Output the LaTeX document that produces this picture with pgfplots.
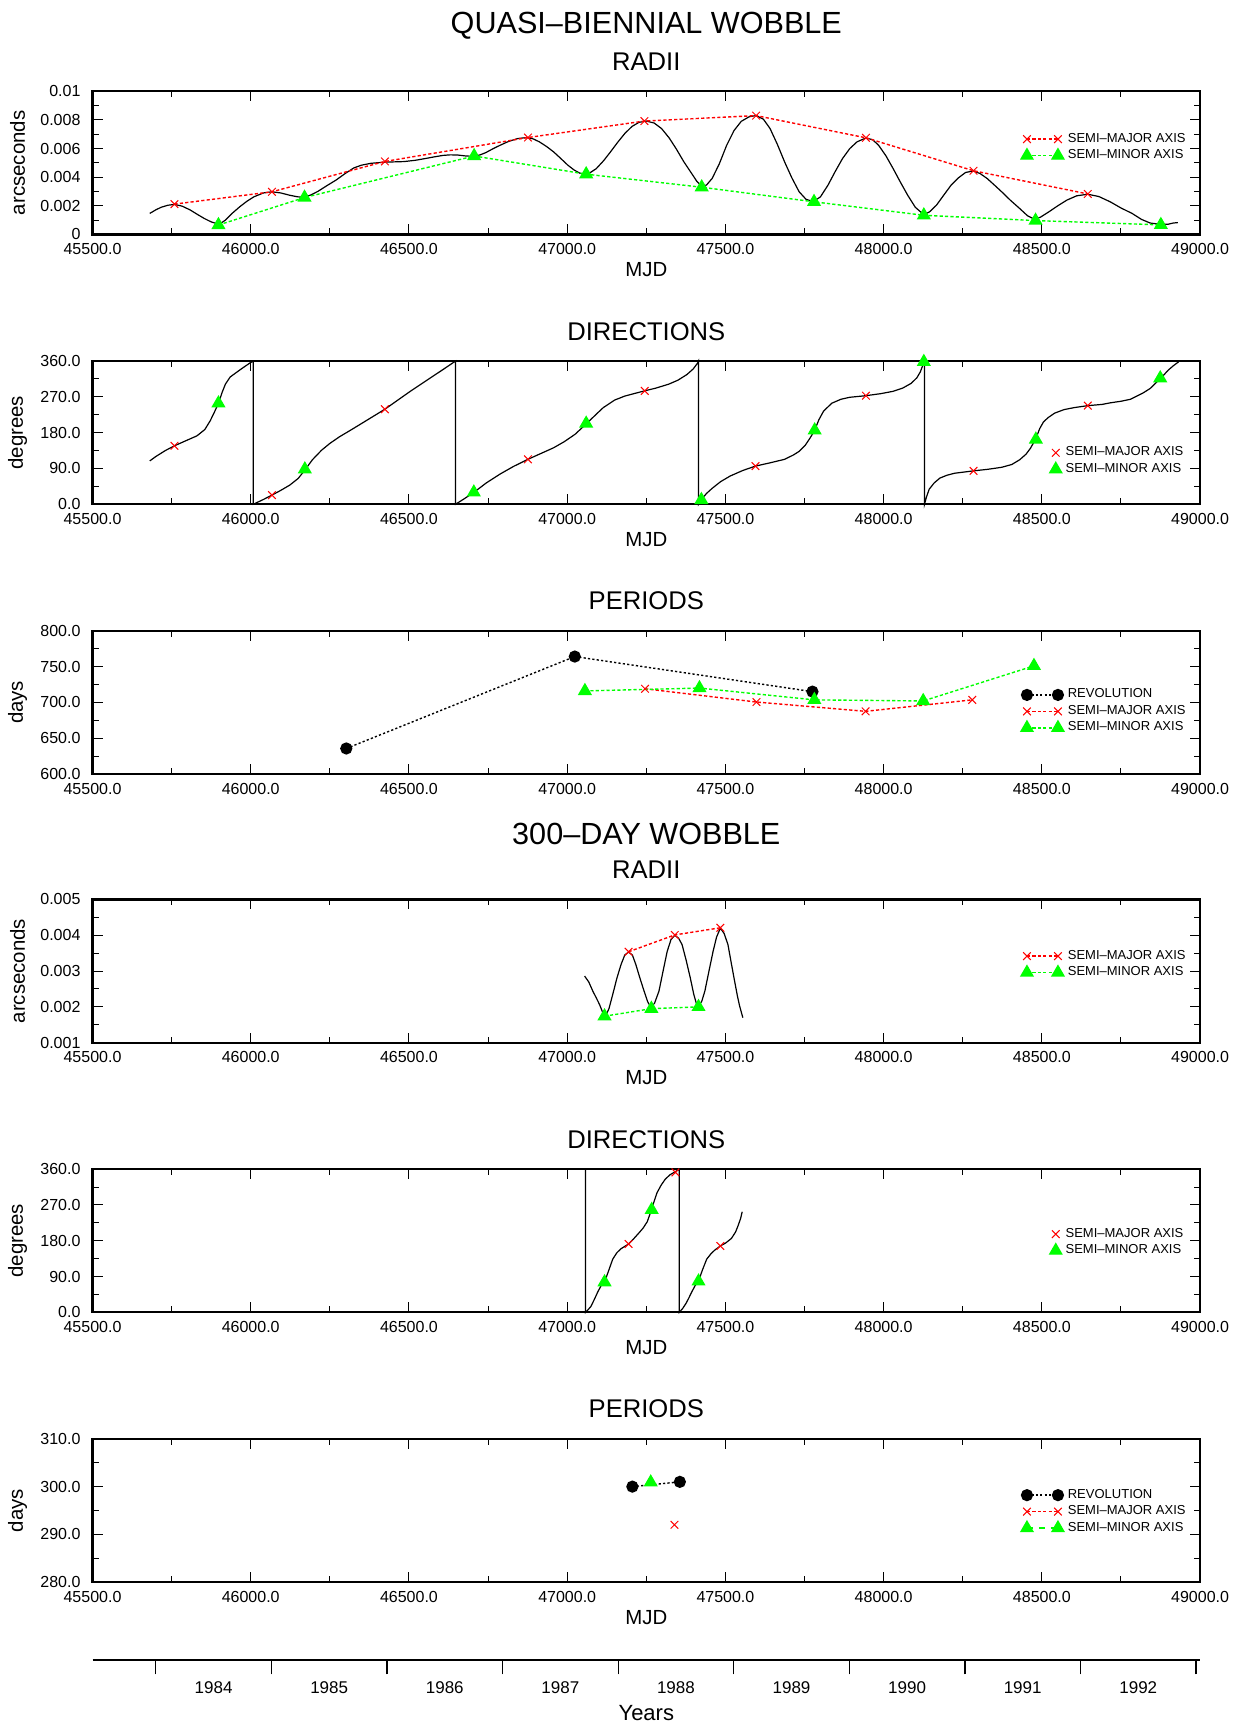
\documentclass[border=0pt]{standalone}
\usepackage{fontspec}
\setmainfont{Liberation Sans}
\usepackage{pgfplots}
\pgfplotsset{compat=1.18}

\definecolor{gred}{RGB}{255,0,0}
\definecolor{ggreen}{RGB}{0,255,0}

\newcommand{\tickfont}{\fontsize{8}{9}\selectfont}
\newcommand{\labfont}{\fontsize{10.2}{12}\selectfont}
\newcommand{\panfont}{\fontsize{12.8}{15}\selectfont}
\newcommand{\bigfont}{\fontsize{15.3}{18}\selectfont}
\newcommand{\legfont}{\fontsize{6.5}{7.5}\selectfont}

\pgfplotsset{
  panel/.style={
    scale only axis, width=553.8pt, height=71.6pt, anchor=south west,
    xmin=45500, xmax=49000,
    scaled ticks=false,
    xtick={45500,46000,46500,47000,47500,48000,48500,49000},
    xticklabels={45500.0,46000.0,46500.0,47000.0,47500.0,48000.0,48500.0,49000.0},
    minor x tick num=1, minor y tick num=1,
    tick align=inside,
    major tick length=5pt, minor tick length=3pt,
    axis line style={line width=1.1pt},
    tick style={black, line width=0.5pt},
    /pgf/number format/assume math mode=true,
    ticklabel style={font=\tickfont},
    xticklabel style={yshift=-1pt},
    yticklabel style={xshift=-2.5pt},
    every axis title/.style={at={(axis description cs:0.5,1)}, anchor=center, yshift=14.9pt, font=\panfont},
    xlabel style={at={(axis description cs:0.5,0)}, anchor=center, yshift=-17.6pt, font=\labfont},
    ylabel style={at={(axis description cs:-0.0677,0.5)}, anchor=center, font=\labfont},
    clip=false,
    legend cell align=left,
    legend style={draw=none, fill=none, inner sep=0pt, font=\legfont, row sep=-1.8pt, anchor=west},
  },
  curve/.style={black, line width=0.6pt, no markers, forget plot},
  semimaj/.style={color=gred, mark=x, mark size=2.7pt, line width=0.7pt,
    dash pattern=on 1.6pt off 1.1pt, mark options={solid, line width=0.5pt}},
  semimin/.style={color=ggreen, mark=triangle*, mark size=3.4pt, line width=0.7pt,
    dash pattern=on 1.6pt off 1.1pt, mark options={solid}},
  revol/.style={color=black, mark=*, mark size=2.7pt, line width=0.7pt,
    dash pattern=on 1.1pt off 1.1pt, mark options={solid}},
  twoend/.style={legend image code/.code={\draw[##1] plot coordinates {(0pt,0pt) (15.5pt,0pt)};}},
  oneend/.style={legend image code/.code={\draw[##1] plot coordinates {(0pt,0pt)};}},
}

\begin{document}
\begin{tikzpicture}

\node[font=\bigfont] at (323.15pt,850.8pt) {QUASI–BIENNIAL WOBBLE};
\node[font=\bigfont] at (323.15pt,446.75pt) {300–DAY WOBBLE};

% ---------------- quasi-biennial: radii ----------------
\begin{axis}[panel, at={(46.25pt,746.25pt)}, twoend,
  ymin=0, ymax=0.01,
  ytick={0,0.002,0.004,0.006,0.008,0.01},
  yticklabels={0,0.002,0.004,0.006,0.008,0.01},
  title={RADII}, xlabel={MJD}, ylabel={arcseconds},
  legend style={at={(axis description cs:0.838,0.608)}}]
\addplot[curve] coordinates {
(45681,0.00147)(45700,0.00172)(45717,0.00190)(45738,0.00204)(45759,0.00210)
(45783,0.00198)(45808,0.00172)(45830,0.00142)(45853,0.00112)(45875,0.00088)
(45892,0.00076)(45905,0.00078)(45920,0.00100)(45940,0.00145)(45965,0.00193)
(45988,0.00232)(46010,0.00263)(46040,0.00290)(46067,0.00298)(46095,0.00290)
(46123,0.00274)(46148,0.00263)(46168,0.00260)(46190,0.00276)(46213,0.00302)
(46240,0.00340)(46269,0.00379)(46298,0.00425)(46326,0.00465)(46350,0.00484)
(46380,0.00497)(46424,0.00505)(46484,0.00509)(46520,0.00518)(46551,0.00530)
(46580,0.00542)(46607,0.00552)(46630,0.00556)(46653,0.00555)(46680,0.00548)
(46705,0.00546)(46725,0.00556)(46743,0.00572)(46765,0.00598)(46788,0.00623)
(46815,0.00650)(46844,0.00670)(46872,0.00677)(46892,0.00668)(46912,0.00647)
(46935,0.00614)(46957,0.00577)(46980,0.00530)(47002,0.00484)(47022,0.00450)
(47040,0.00428)(47058,0.00421)(47075,0.00435)(47092,0.00460)(47115,0.00515)
(47137,0.00577)(47160,0.00645)(47182,0.00705)(47205,0.00755)(47227,0.00783)
(47250,0.00792)(47275,0.00778)(47298,0.00740)(47322,0.00675)(47344,0.00600)
(47368,0.00510)(47390,0.00437)(47410,0.00370)(47426,0.00336)(47440,0.00345)
(47458,0.00391)(47480,0.00490)(47504,0.00623)(47527,0.00725)(47550,0.00790)
(47575,0.00822)(47597,0.00830)(47620,0.00805)(47641,0.00740)(47664,0.00630)
(47687,0.00507)(47710,0.00395)(47733,0.00298)(47755,0.00245)(47778,0.00230)
(47800,0.00262)(47824,0.00344)(47847,0.00440)(47870,0.00530)(47893,0.00600)
(47916,0.00647)(47944,0.00674)(47965,0.00662)(47984,0.00623)(48007,0.00550)
(48030,0.00460)(48053,0.00365)(48076,0.00274)(48100,0.00190)(48127,0.00138)
(48145,0.00158)(48167,0.00205)(48190,0.00275)(48213,0.00344)(48236,0.00395)
(48259,0.00433)(48284,0.00444)(48305,0.00425)(48327,0.00391)(48350,0.00345)
(48373,0.00298)(48400,0.00240)(48430,0.00181)(48455,0.00130)(48476,0.00107)
(48495,0.00120)(48522,0.00158)(48550,0.00200)(48579,0.00240)(48610,0.00270)
(48645,0.00281)(48680,0.00265)(48716,0.00228)(48750,0.00185)(48785,0.00147)
(48815,0.00105)(48842,0.00080)(48876,0.00070)(48900,0.00072)(48915,0.00080)
(48930,0.00083)};
\addplot[semimaj] coordinates {
(45759,0.00212)(46067,0.00298)(46424,0.00510)(46876,0.00677)(47244,0.00792)
(47597,0.00830)(47944,0.00675)(48284,0.00445)(48645,0.00283)};
\addlegendentry{SEMI–MAJOR AXIS}
\addplot[semimin] coordinates {
(45898,0.00066)(46170,0.00258)(46706,0.00548)(47060,0.00421)(47425,0.00330)
(47780,0.00228)(48127,0.00134)(48480,0.00097)(48876,0.00067)};
\addlegendentry{SEMI–MINOR AXIS}
\end{axis}

% ---------------- quasi-biennial: directions ----------------
\begin{axis}[panel, at={(46.25pt,611.35pt)}, oneend,
  ymin=0, ymax=360,
  ytick={0,90,180,270,360},
  yticklabels={0.0,90.0,180.0,270.0,360.0},
  title={DIRECTIONS}, xlabel={MJD}, ylabel={degrees},
  legend style={at={(axis description cs:0.864,0.302)}}]
\addplot[curve] coordinates {
(45681,109)(45700,120)(45730,135)(45759,147)(45790,158)(45830,172)(45855,188)
(45872,210)(45886,233)(45898,254)(45910,282)(45920,302)(45935,320)(45954,331)
(45975,343)(45999,356)(46008,360)(46008,0)
(46040,12)(46067,23)(46095,35)(46123,48)(46150,65)(46171,86)(46195,112)
(46224,136)(46250,153)(46281,170)(46315,186)(46348,202)(46385,220)(46424,239)
(46465,262)(46506,285)(46540,303)(46574,321)(46610,340)(46647,360)(46647,0)
(46675,14)(46705,30)(46745,54)(46788,76)(46830,95)(46876,113)(46915,127)
(46957,142)(46990,157)(47025,176)(47060,202)(47090,225)(47114,243)(47150,262)
(47182,272)(47215,279)(47244,285)(47280,292)(47321,302)(47350,312)(47378,326)
(47398,340)(47412,355)(47415,360)(47415,0)
(47424,12)(47440,27)(47458,40)(47485,57)(47515,71)(47555,85)(47595,96)
(47640,104)(47687,113)(47715,124)(47733,133)(47752,148)(47767,166)(47782,186)
(47795,212)(47810,234)(47836,254)(47865,264)(47893,269)(47944,273)(47990,278)
(48030,284)(48060,292)(48087,304)(48105,318)(48116,333)(48124,350)(48129,360)
(48129,0)
(48136,20)(48144,38)(48160,54)(48178,66)(48200,73)(48224,78)(48284,84)
(48330,88)(48373,93)(48405,100)(48430,112)(48450,126)(48464,141)(48481,165)
(48493,190)(48505,207)(48520,218)(48540,229)(48570,238)(48602,243)(48645,248)
(48690,251)(48716,255)(48750,259)(48780,264)(48800,272)(48820,280)(48842,291)
(48860,305)(48876,317)(48899,337)(48915,348)(48932,358)};
\addplot[semimaj, only marks] coordinates {
(45759,147)(46067,23)(46424,239)(46876,113)(47245,285)(47595,96)(47944,273)
(48284,84)(48645,248)};
\addlegendentry{SEMI–MAJOR AXIS}
\addplot[semimin, only marks] coordinates {
(45898,254)(46171,88)(46705,30)(47060,203)(47424,11)(47782,186)(48127,358)
(48481,163)(48874,317)};
\addlegendentry{SEMI–MINOR AXIS}
\end{axis}

% ---------------- quasi-biennial: periods ----------------
\begin{axis}[panel, at={(46.25pt,476.5pt)}, twoend,
  ymin=600, ymax=800,
  ytick={600,650,700,750,800},
  yticklabels={600.0,650.0,700.0,750.0,800.0},
  title={PERIODS}, ylabel={days},
  legend style={at={(axis description cs:0.838,0.437)}}]
\addplot[revol] coordinates {(46302,635.6)(47024,764)(47775,715)};
\addlegendentry{REVOLUTION}
\addplot[semimaj] coordinates {(47246,719)(47598,700.5)(47943,687.5)(48280,703.5)};
\addlegendentry{SEMI–MAJOR AXIS}
\addplot[semimin] coordinates {(47056,716)(47418,720)(47781,703.5)(48125,702)(48475,751)};
\addlegendentry{SEMI–MINOR AXIS}
\end{axis}

% ---------------- 300-day: radii ----------------
\begin{axis}[panel, at={(46.25pt,342.15pt)}, twoend,
  ymin=0.001, ymax=0.005,
  ytick={0.001,0.002,0.003,0.004,0.005},
  yticklabels={0.001,0.002,0.003,0.004,0.005},
  title={RADII}, xlabel={MJD}, ylabel={arcseconds},
  legend style={at={(axis description cs:0.838,0.547)}}]
\addplot[curve] coordinates {
(47055,0.00286)(47068,0.00270)(47081,0.00244)(47092,0.00225)(47102,0.00207)
(47112,0.00185)(47121,0.00174)(47132,0.00195)(47144,0.00235)(47157,0.00280)
(47170,0.00318)(47182,0.00345)(47194,0.00353)(47206,0.00345)(47217,0.00318)
(47230,0.00280)(47243,0.00244)(47254,0.00215)(47264,0.00199)(47276,0.00210)
(47290,0.00244)(47303,0.00300)(47316,0.00355)(47328,0.00388)(47340,0.00400)
(47352,0.00392)(47363,0.00374)(47376,0.00330)(47389,0.00281)(47400,0.00235)
(47409,0.00207)(47415,0.00202)(47425,0.00215)(47435,0.00244)(47448,0.00300)
(47461,0.00355)(47472,0.00395)(47484,0.00420)(47496,0.00405)(47508,0.00374)
(47519,0.00320)(47529,0.00272)(47538,0.00230)(47545,0.00202)(47555,0.00170)};
\addplot[semimaj] coordinates {(47194,0.00354)(47340,0.00401)(47484,0.00421)};
\addlegendentry{SEMI–MAJOR AXIS}
\addplot[semimin] coordinates {(47118,0.00174)(47266,0.00195)(47415,0.00200)};
\addlegendentry{SEMI–MINOR AXIS}
\end{axis}

% ---------------- 300-day: directions ----------------
\begin{axis}[panel, at={(46.25pt,207.3pt)}, oneend,
  ymin=0, ymax=360,
  ytick={0,90,180,270,360},
  yticklabels={0.0,90.0,180.0,270.0,360.0},
  title={DIRECTIONS}, xlabel={MJD}, ylabel={degrees},
  legend style={at={(axis description cs:0.864,0.489)}}]
\addplot[curve] coordinates {
(47058,360)(47058,0)(47062,3)(47075,15)(47086,33)(47097,52)(47107,67)(47118,76)
(47131,105)(47144,134)(47157,150)(47170,160)(47182,166)(47194,172)(47210,185)
(47227,200)(47240,212)(47253,228)(47262,248)(47270,268)(47284,301)(47297,320)
(47310,335)(47325,346)(47340,353)(47354,360)(47354,0)
(47365,10)(47375,22)(47383,34)(47394,52)(47404,67)(47415,79)(47428,108)
(47441,134)(47455,148)(47467,157)(47484,167)(47500,174)(47519,186)(47532,202)
(47540,218)(47548,236)(47553,253)};
\addplot[semimaj, only marks] coordinates {(47194,172)(47342,352)(47484,167)};
\addlegendentry{SEMI–MAJOR AXIS}
\addplot[semimin, only marks] coordinates {(47118,76)(47267,258)(47415,78)};
\addlegendentry{SEMI–MINOR AXIS}
\end{axis}

% ---------------- 300-day: periods ----------------
\begin{axis}[panel, at={(46.25pt,72.45pt)}, twoend,
  ymin=280, ymax=310,
  ytick={280,290,300,310},
  yticklabels={280.0,290.0,300.0,310.0},
  title={PERIODS}, xlabel={MJD}, ylabel={days},
  legend style={at={(axis description cs:0.838,0.492)}}]
\addplot[revol] coordinates {(47206,300.0)(47356,301.0)};
\addlegendentry{REVOLUTION}
\addplot[semimaj] coordinates {(47339,292.0)};
\addlegendentry{SEMI–MAJOR AXIS}
\addplot[semimin, dash pattern=on 3pt off 3pt] coordinates {(47264,300.9)};
\addlegendentry{SEMI–MINOR AXIS}
\end{axis}

% ---------------- calendar years ----------------
\begin{axis}[at={(46.25pt,33.35pt)}, anchor=south west,
  scale only axis, width=553.8pt, height=1pt,
  xmin=1983.4524, xmax=1993.035, ymin=0, ymax=1,
  scaled ticks=false,
  axis y line=none, axis x line=bottom,
  axis line style={-, line width=0.9pt},
  xtick={1984,1985,1986,1987,1988,1989,1990,1991,1992,1993},
  xticklabels={1984,1985,1986,1987,1988,1989,1990,1991,1992},
  x tick label as interval,
  tick align=outside, major tick length=7pt,
  tick style={black, line width=0.6pt},
  ticklabel style={font=\fontsize{8.5}{10}\selectfont},
  xlabel={Years},
  xlabel style={at={(axis description cs:0.5,0)}, anchor=center, yshift=-26.6pt, font=\fontsize{11}{13}\selectfont}]
\addplot[draw=none] coordinates {(1985,0.5)};
\end{axis}

\pgfresetboundingbox
\useasboundingbox (0pt,0pt) rectangle (621pt,863.5pt);
\end{tikzpicture}
\end{document}
